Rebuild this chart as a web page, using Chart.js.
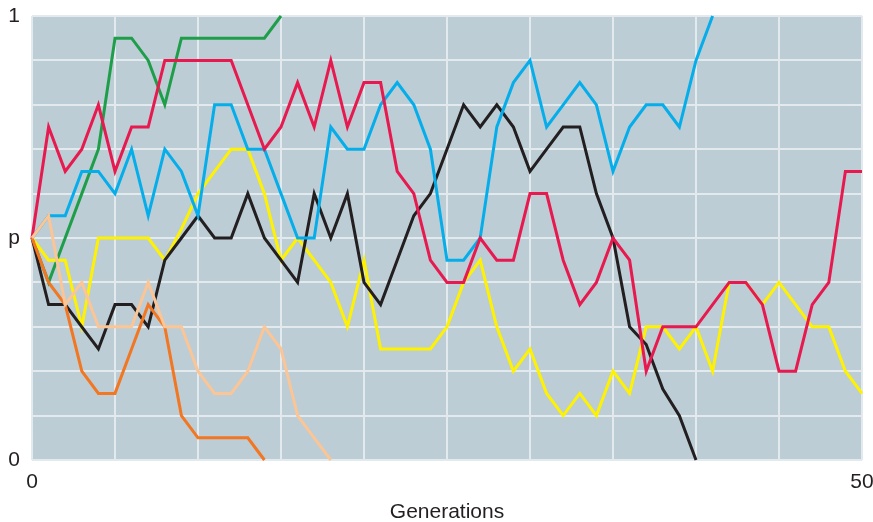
<!DOCTYPE html>
<html>
<head>
<meta charset="utf-8">
<script src="https://cdn.jsdelivr.net/npm/chart.js@4/dist/chart.umd.min.js"></script>
<style>
  html, body { margin: 0; padding: 0; background: #ffffff; }
  #wrap { width: 873px; height: 522px; }
</style>
</head>
<body>
<div id="wrap"><canvas id="drift"></canvas></div>
<script>
// Generations along the horizontal axis
const generations = [0,1,2,3,4,5,6,7,8,9,10,11,12,13,14,15,16,17,18,19,20,21,22,23,24,25,26,27,28,29,30,31,32,33,34,35,36,37,38,39,40,41,42,43,44,45,46,47,48,49,50];

// Allele frequency of each replicate population, one value per generation
const popRed    = [0.5,0.75,0.65,0.7,0.8,0.65,0.75,0.75,0.9,0.9, 0.9,0.9,0.9,0.8,0.7,0.75,0.85,0.75,0.9,0.75, 0.85,0.85,0.65,0.6,0.45,0.4,0.4,0.5,0.45,0.45, 0.6,0.6,0.45,0.35,0.4,0.5,0.45,0.2,0.3,0.3, 0.3,0.35,0.4,0.4,0.35,0.2,0.2,0.35,0.4,0.65, 0.65];
const popBlue   = [0.5,0.55,0.55,0.65,0.65,0.6,0.7,0.55,0.7,0.65, 0.55,0.8,0.8,0.7,0.7,0.6,0.5,0.5,0.75,0.7, 0.7,0.8,0.85,0.8,0.7,0.45,0.45,0.5,0.75,0.85, 0.9,0.75,0.8,0.85,0.8,0.65,0.75,0.8,0.8,0.75, 0.9,1.0];
const popBlack  = [0.5,0.35,0.35,0.3,0.25,0.35,0.35,0.3,0.45,0.5, 0.55,0.5,0.5,0.6,0.5,0.45,0.4,0.6,0.5,0.6, 0.4,0.35,0.45,0.55,0.6,0.7,0.8,0.75,0.8,0.75, 0.65,0.7,0.75,0.75,0.6,0.5,0.3,0.26,0.16,0.1, 0];
const popYellow = [0.5,0.45,0.45,0.3,0.5,0.5,0.5,0.5,0.45,0.52, 0.6,0.65,0.7,0.7,0.6,0.45,0.5,0.45,0.4,0.3, 0.45,0.25,0.25,0.25,0.25,0.3,0.4,0.45,0.3,0.2, 0.25,0.15,0.1,0.15,0.1,0.2,0.15,0.3,0.3,0.25, 0.3,0.2,0.4,0.4,0.35,0.4,0.35,0.3,0.3,0.2, 0.15];
const popGreen  = [0.5,0.4,0.5,0.6,0.7,0.95,0.95,0.9,0.8,0.95, 0.95,0.95,0.95,0.95,0.95,1.0];
const popOrange = [0.5,0.4,0.35,0.2,0.15,0.15,0.25,0.35,0.3,0.1, 0.05,0.05,0.05,0.05,0];
const popPeach  = [0.5,0.55,0.35,0.4,0.3,0.3,0.3,0.4,0.3,0.3, 0.2,0.15,0.15,0.2,0.3,0.25,0.1,0.05,0];

// Axis labels
const yTickValues = [0, 0.5, 1];
const yTickLabels = ['0', 'p', '1'];
const xTickValues = [0, 50];
const xTickLabels = ['0', '50'];
const xTitle = 'Generations';

const plotBackground = {
  id: 'plotBackground',
  beforeDraw(chart) {
    const { ctx, chartArea: a } = chart;
    ctx.save();
    ctx.fillStyle = '#bccdd6';
    ctx.fillRect(a.left, a.top, a.right - a.left, a.bottom - a.top);
    ctx.restore();
  }
};

function line(data, color) {
  return {
    data: data,
    borderColor: color,
    backgroundColor: color,
    borderWidth: 3,
    pointRadius: 0,
    pointHoverRadius: 0,
    tension: 0,
    fill: false,
    borderJoinStyle: 'miter',
    clip: false
  };
}

function labelFor(values, labels, v) {
  for (let i = 0; i < values.length; i++) {
    if (Math.abs(values[i] - v) < 1e-6) return labels[i];
  }
  return '';
}

Chart.defaults.font.family = '"Liberation Sans", Arial, Helvetica, sans-serif';
Chart.defaults.color = '#231f20';

new Chart(document.getElementById('drift'), {
  type: 'line',
  data: {
    labels: generations,
    datasets: [
      line(popPeach,  '#fbc595'),
      line(popOrange, '#f37621'),
      line(popRed,    '#e8194f'),
      line(popBlue,   '#05aeea'),
      line(popBlack,  '#231f20'),
      line(popYellow, '#fff200'),
      line(popGreen,  '#1f9e4a')
    ]
  },
  plugins: [plotBackground],
  options: {
    responsive: true,
    maintainAspectRatio: false,
    animation: false,
    events: [],
    layout: { padding: { top: 16, right: 11, left: 0, bottom: 0 } },
    plugins: { legend: { display: false }, tooltip: { enabled: false } },
    scales: {
      x: {
        type: 'linear',
        min: 0,
        max: 50,
        border: { display: false },
        grid: { color: '#e3eaee', lineWidth: 2, drawTicks: false },
        ticks: {
          stepSize: 5,
          padding: 10,
          maxRotation: 0,
          autoSkip: false,
          font: { size: 21 },
          callback: (v) => labelFor(xTickValues, xTickLabels, v)
        },
        title: {
          display: true,
          text: xTitle,
          font: { size: 21 },
          padding: { top: 0, bottom: -3 }
        },
        afterFit(scale) {
          scale.height = 62;
          scale.paddingLeft = 0;
          scale.paddingRight = 0;
        }
      },
      y: {
        min: 0,
        max: 1,
        border: { display: false },
        grid: { color: '#e3eaee', lineWidth: 2, drawTicks: false },
        ticks: {
          stepSize: 0.1,
          padding: 12,
          autoSkip: false,
          font: { size: 21 },
          callback: (v) => labelFor(yTickValues, yTickLabels, v)
        },
        afterFit(scale) {
          scale.width = 32;
          scale.paddingTop = 0;
          scale.paddingBottom = 0;
        }
      }
    }
  }
});
</script>
</body>
</html>
